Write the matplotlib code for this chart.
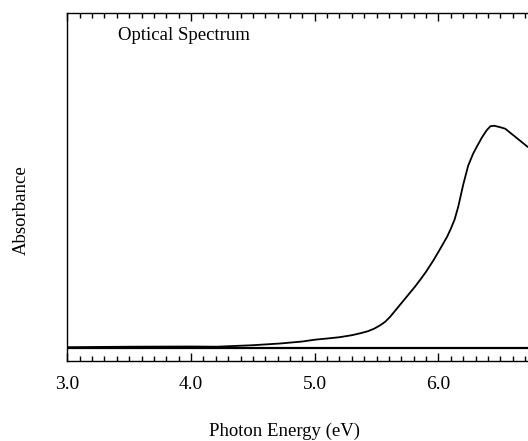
import numpy as np
import matplotlib.pyplot as plt
from matplotlib.ticker import MultipleLocator, NullLocator

# Data (photon energy in eV, absorbance in arbitrary units)
energy = [3.00, 3.50, 4.00, 4.21, 4.50, 4.72, 4.90, 5.00, 5.10, 5.20, 5.30,
          5.37, 5.43, 5.48, 5.53, 5.57, 5.61, 5.65, 5.69, 5.73, 5.77, 5.81,
          5.85, 5.90, 5.96, 6.01, 6.07, 6.10, 6.13, 6.16, 6.20, 6.24, 6.28,
          6.31, 6.35, 6.39, 6.42, 6.45, 6.50, 6.54, 6.58, 6.63, 6.68, 6.72]
absorbance = [0.005, 0.010, 0.012, 0.010, 0.025, 0.042, 0.062, 0.080, 0.092, 0.105, 0.125,
              0.145, 0.165, 0.190, 0.225, 0.260, 0.310, 0.370, 0.430, 0.490, 0.550, 0.610,
              0.675, 0.760, 0.875, 0.980, 1.110, 1.190, 1.280, 1.410, 1.630, 1.820, 1.940,
              2.010, 2.100, 2.175, 2.215, 2.220, 2.205, 2.190, 2.150, 2.100, 2.050, 2.010]

xticks = [3.0, 4.0, 5.0, 6.0]
xtick_labels = ['3.0', '4.0', '5.0', '6.0']

plt.rcParams['font.family'] = ['Liberation Serif', 'DejaVu Serif']

fig = plt.figure(figsize=(5.28, 4.41), dpi=100)
ax = fig.add_axes([0.1275, 0.1814, 0.8716, 0.789])

ax.plot(energy, absorbance, color='black', lw=1.3)
ax.axhline(0, color='black', lw=1.6)

ax.set_xlim(3.0, 6.72)
ax.set_ylim(-0.133, 3.347)

ax.set_xticks(xticks)
ax.set_xticklabels(xtick_labels)
ax.xaxis.set_minor_locator(MultipleLocator(0.1))
ax.yaxis.set_major_locator(NullLocator())
ax.tick_params(axis='x', which='both', direction='in', top=True, bottom=True,
               labelsize=14, pad=11)
ax.tick_params(axis='x', which='major', length=6, width=1)
ax.tick_params(axis='x', which='minor', length=3.5, width=1)

for s in ['left', 'top', 'bottom']:
    ax.spines[s].set_linewidth(1.0)
ax.spines['right'].set_visible(False)

ax.set_xlabel('Photon Energy (eV)', fontsize=13.5)
ax.xaxis.set_label_coords(0.471, -0.178)
ax.set_ylabel('Absorbance', fontsize=13.5)
ax.yaxis.set_label_coords(-0.081, 0.434)

ax.text(0.111, 0.935, 'Optical Spectrum', transform=ax.transAxes,
        fontsize=13.5, ha='left', va='center')

fig.savefig('out.png', dpi=100)
